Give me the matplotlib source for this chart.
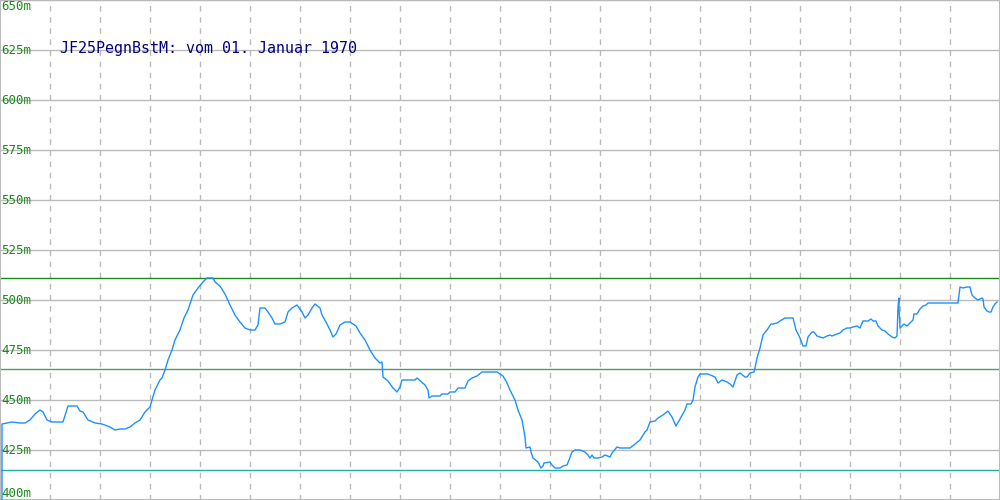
import matplotlib.pyplot as plt

t = [2, 2, 12, 20, 25, 30, 35, 40, 43, 47, 52, 63, 68, 77, 80, 83, 88, 95, 102,
     110, 115, 120, 125, 130, 135, 140, 145, 150, 152, 155, 160, 162, 165, 168,
     172, 175, 180, 184, 188, 193, 198, 203, 207, 213, 215, 220, 225, 230, 235,
     240, 245, 250, 255, 258, 260, 265, 268, 272, 275, 280, 285, 288, 292, 297,
     302, 305, 308, 312, 315, 320, 322, 326, 330, 333, 336, 340, 345, 350, 356,
     360, 365, 370, 375, 380, 382, 383, 388, 393, 397, 400, 402, 415, 417, 425,
     428, 429, 432, 440, 442, 448, 450, 455, 458, 465, 468, 472, 477, 482, 490,
     497, 500, 503, 507, 510, 515, 518, 522, 525, 526, 530, 531, 533, 538, 541,
     543, 544, 550, 552, 555, 560, 563, 567, 569, 572, 575, 580, 585, 588, 590,
     592, 594, 598, 602, 605, 610, 612, 617, 620, 625, 630, 640, 645, 647, 650,
     655, 658, 663, 668, 672, 676, 680, 685, 687, 691, 693, 695, 698, 700, 708,
     715, 718, 722, 727, 730, 733, 737, 740, 745, 747, 750, 754, 755, 757, 760,
     763, 767, 771, 773, 777, 780, 785, 793, 796, 800, 803, 806, 808, 812, 814,
     817, 820, 823, 827, 830, 832, 837, 840, 843, 847, 850, 853, 857, 860, 863,
     868, 871, 873, 876, 878, 882, 885, 888, 892, 895, 897, 898, 899, 899, 900,
     902, 904, 907, 910, 913, 914, 917, 920, 923, 926, 928, 950, 958, 960, 963,
     967, 970, 972, 975, 978, 982, 983, 984, 987, 989, 991, 993, 995, 997]
pegel = [400, 438, 439, 438.5, 438.5, 440, 443, 445, 444, 440, 439, 439, 447,
         447, 444.5, 444, 440, 438.5, 438, 436.5, 435, 435.5, 435.5, 436.5,
         438.5, 440, 444, 446.5, 450, 455, 460, 461, 465, 470, 475, 480, 485,
         491, 495, 502.5, 506, 509, 511, 511, 509, 507, 503, 497.5, 492.5, 489,
         486, 485, 485, 487.5, 496, 496, 494, 491, 488, 488, 489, 494, 496,
         497.5, 494, 491, 492.5, 496, 498, 496, 492.5, 489, 485, 481.5, 483,
         487.5, 489, 489, 487, 483.5, 480, 475, 471, 468.5, 469, 461.5, 459.5,
         456, 454, 456.5, 460, 460, 461, 457.5, 455, 451, 452, 452, 453, 453,
         454, 454, 456, 456, 459.5, 461, 462, 464, 464, 464, 463, 462, 458.5,
         455, 450, 445, 440, 431.5, 426, 426.5, 424, 421, 419, 416, 417, 418.5,
         419, 417.5, 416, 416, 417, 417.5, 420, 424, 425, 425, 424, 422.5, 421,
         422.5, 421, 421, 421.5, 422.5, 421.5, 423.5, 426.5, 426, 426, 426,
         430, 434, 435, 439, 439.5, 441, 442.5, 444.5, 441.5, 437, 440.5,
         445, 448, 448, 450, 456.5, 461.5, 463, 463, 461.5, 458.5, 460, 459,
         458, 456.5, 462.5, 463.5, 461.5, 461.5, 463.5, 464, 466, 471, 476,
         482.5, 485, 488, 488, 488.5, 489.5, 491, 491, 485, 481, 477, 477,
         481.5, 484, 484, 482, 481.5, 481, 482, 482.5, 482, 483, 483.5, 485,
         486, 486, 486.5, 487, 486, 489.5, 489.5, 490.5, 489.5, 489.5, 487,
         485, 484.5, 483, 481.5, 481, 482, 496.5, 501, 496.5, 486, 487, 488,
         487, 488.5, 490, 493, 493, 495.5, 497, 497.5, 498.5, 498.5, 498.5,
         506.5, 506, 506.5, 506.5, 502.5, 501, 500, 501, 500.5, 496.5, 494.5,
         494, 494, 496.5, 498, 499]

# Grenzwerte
grenzen = [511, 465.5, 415]
grenz_farben = ["#1a8a1a", "#4a9e6e", "#20b0a0"]

y_ticks = [400, 425, 450, 475, 500, 525, 550, 575, 600, 625, 650]
titel = "JF25PegnBstM: vom 01. Januar 1970"

fig = plt.figure(figsize=(10, 5), dpi=100)
ax = fig.add_axes([0, 0, 1, 1])
ax.set_xlim(0, 1000)
ax.set_ylim(400, 650)

for y in y_ticks:
    ax.axhline(y, color="#bbbbbb", lw=1.0, zorder=1)
for x in range(50, 1000, 50):
    ax.axvline(x, color="#bbbbbb", lw=1.0, ls=(0, (4, 4)), zorder=1)

for g, c in zip(grenzen, grenz_farben):
    ax.axhline(g, color=c, lw=1.0, zorder=2)

ax.plot(t, pegel, color="#1e90ff", lw=1.0, zorder=3)

for y in y_ticks:
    va = "center"
    if y == 650:
        va = "top"
    elif y == 400:
        va = "bottom"
    ax.text(1, y, f"{y}m", color="#1a8a1a", fontsize=9,
            family="DejaVu Sans Mono", va=va, ha="left", zorder=4)

ax.text(60, 626, titel, color="#000080", fontsize=10.8,
        family="DejaVu Sans Mono", va="center", ha="left", zorder=4)

ax.set_xticks([])
ax.set_yticks([])
for s in ax.spines.values():
    s.set_color("#bbbbbb")
    s.set_linewidth(1.5)

fig.savefig("out.png", dpi=100)
plt.close(fig)
